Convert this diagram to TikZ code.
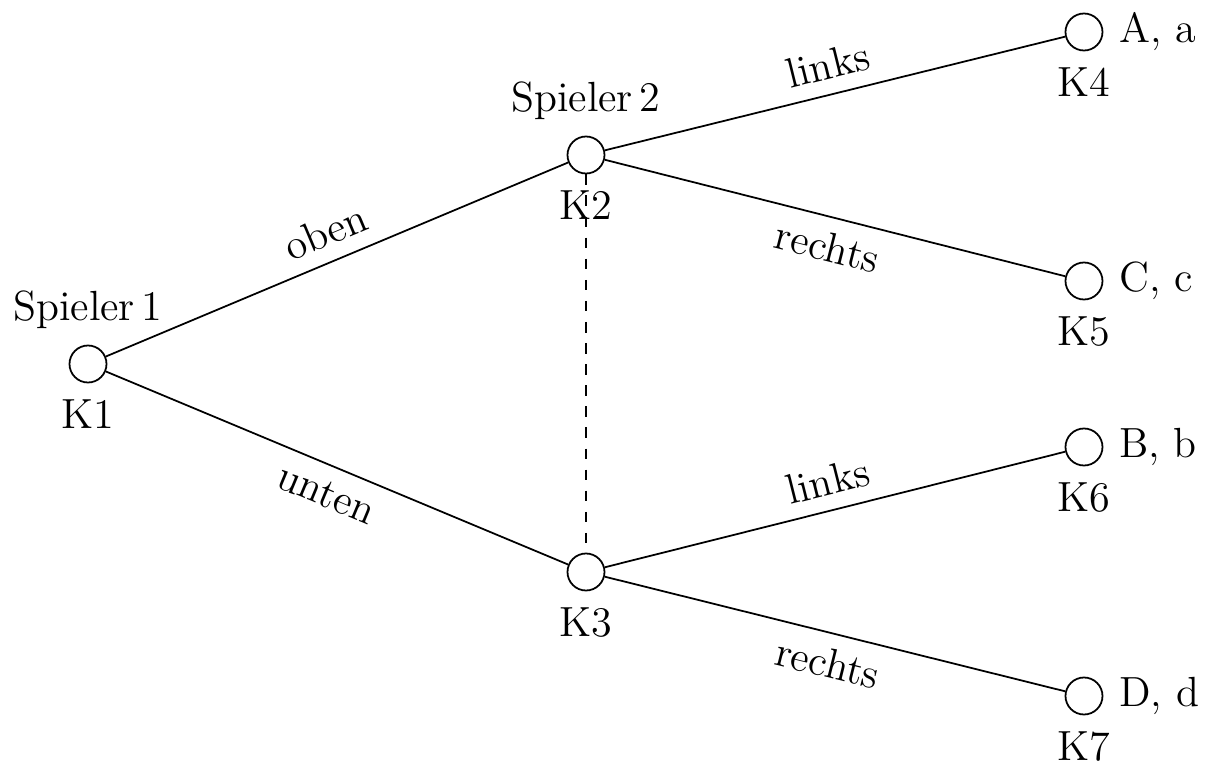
\documentclass[tikz,border=0pt]{standalone}
\usetikzlibrary{positioning}

\tikzset{
  knot/.style={draw, circle, minimum size=0.37cm, inner sep=0pt, line width=0.5pt},
  zweig/.style={line width=0.5pt},
  zug/.style={midway, sloped, inner sep=4pt}
}

\begin{document}
\begin{tikzpicture}[font=\fontsize{12}{14.4}\selectfont, label distance=1pt]

% Frame
\useasboundingbox (-0.88,-4.09) rectangle (11.26,3.64);

% Decision nodes
\node[knot, label=above:{Spieler\,1}, label=below:K1] (K1) at (0,0) {};
\node[knot, label=above:{Spieler\,2}, label=below:K2] (K2) at (4.98,2.09) {};
\node[knot, label=below:K3] (K3) at (4.98,-2.08) {};

% Leaves with payoffs
\node[knot, label=right:{A, a}, label=below:K4] (K4) at (9.96,3.32) {};
\node[knot, label=right:{C, c}, label=below:K5] (K5) at (9.96,0.83) {};
\node[knot, label=right:{B, b}, label=below:K6] (K6) at (9.96,-0.83) {};
\node[knot, label=right:{D, d}, label=below:K7] (K7) at (9.96,-3.32) {};

% Branches of player 1
\draw[zweig] (K1) -- node[zug, above] {oben} (K2);
\draw[zweig] (K1) -- node[zug, below] {unten} (K3);

% Branches of player 2
\draw[zweig] (K2) -- node[zug, above] {links} (K4);
\draw[zweig] (K2) -- node[zug, below] {rechts} (K5);
\draw[zweig] (K3) -- node[zug, above] {links} (K6);
\draw[zweig] (K3) -- node[zug, below] {rechts} (K7);

% Information set
\draw[zweig, dashed] (K2) -- (K3);

\end{tikzpicture}
\end{document}
